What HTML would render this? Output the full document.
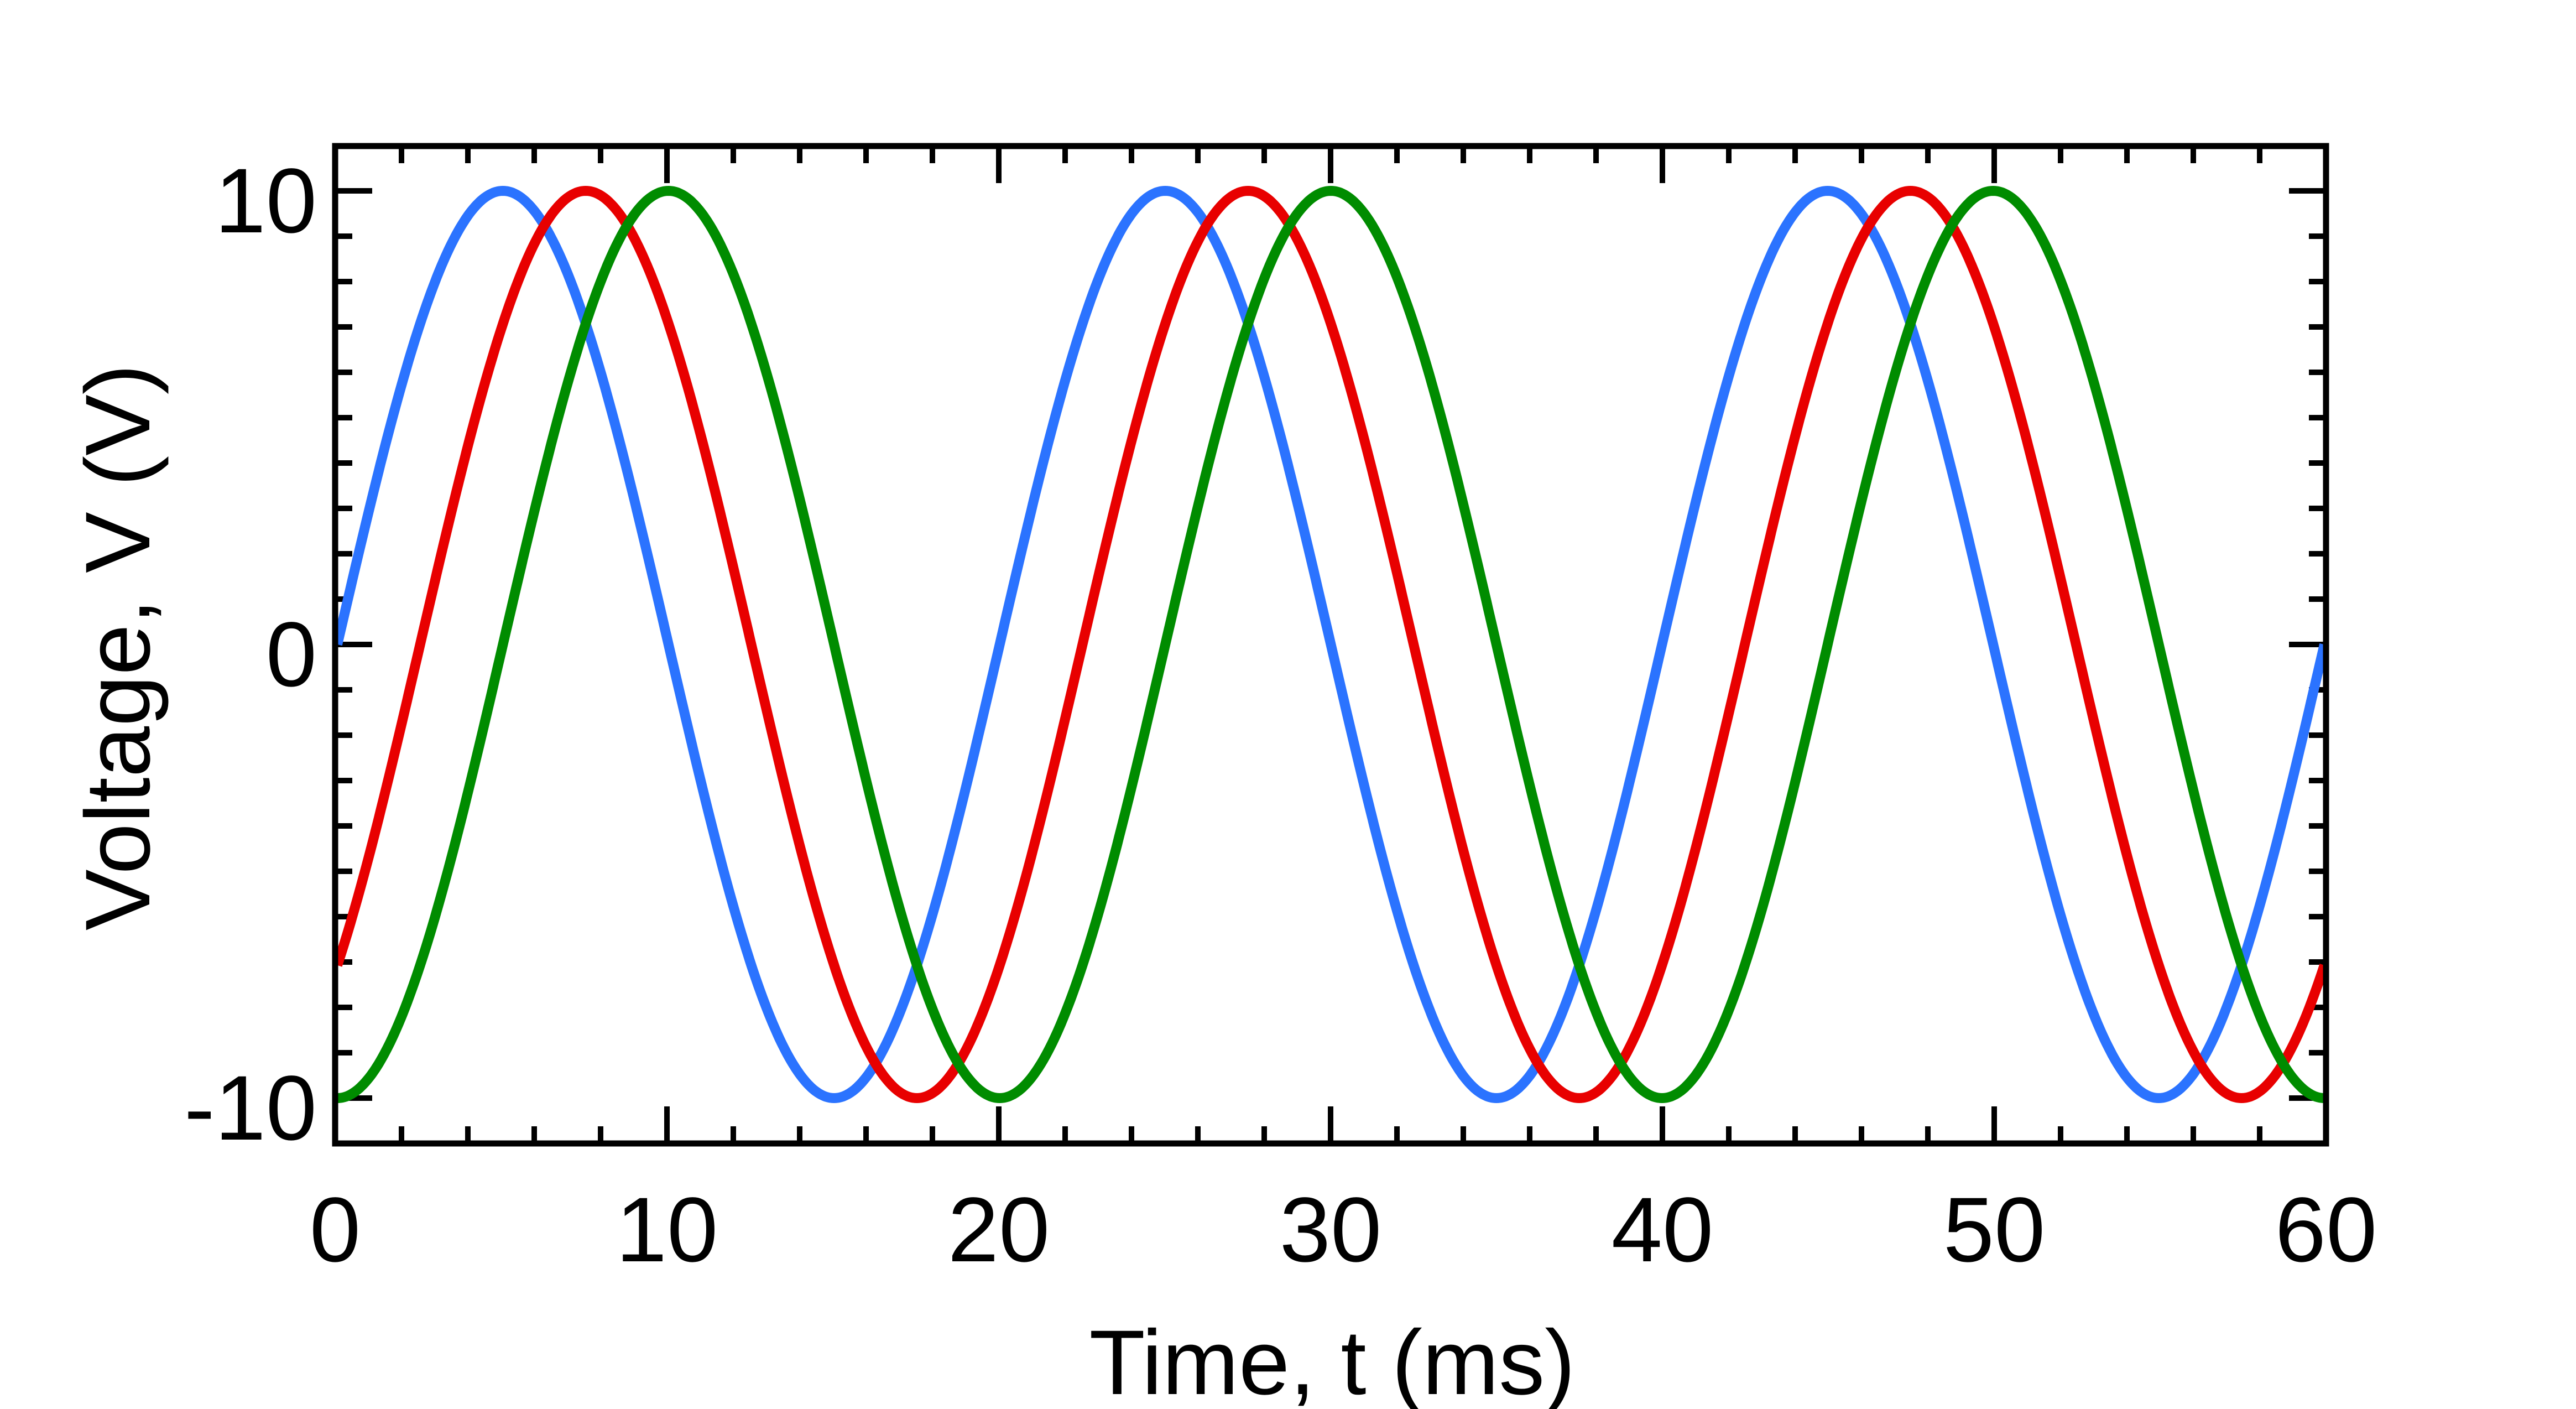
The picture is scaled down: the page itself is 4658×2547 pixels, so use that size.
<!DOCTYPE html>
<html><head><meta charset="utf-8"><style>
html,body{margin:0;padding:0;background:#fff}
svg{display:block}
text{font-family:"Liberation Sans",sans-serif;fill:#000}
</style></head><body>
<svg id="s" width="4658" height="2547" viewBox="0 0 4658 2547" xmlns="http://www.w3.org/2000/svg">
<g id="ticks" stroke="#000" stroke-width="10"></g>
<g id="curves" fill="none" stroke-width="18" stroke-linejoin="round"></g>
<rect x="606" y="264" width="3600" height="1803" fill="none" stroke="#000" stroke-width="11"/>
<g font-size="166" text-anchor="end">
<text x="573" y="420">10</text>
<text x="573" y="1240">0</text>
<text x="573" y="2060">-10</text>
</g>
<g font-size="166" text-anchor="middle">
<text x="606" y="2280">0</text>
<text x="1206" y="2280">10</text>
<text x="1806" y="2280">20</text>
<text x="2406" y="2280">30</text>
<text x="3006" y="2280">40</text>
<text x="3606" y="2280">50</text>
<text x="4206" y="2280">60</text>
<text x="2409" y="2520">Time, t (ms)</text>
<text transform="translate(270,1170) rotate(-90)">Voltage, V (V)</text>
</g>
</svg>
<script>
var X0=610,X1=4203,Y0=1165,A=820;
function px(t){return X0+(X1-X0)*t/60}
var cg=document.getElementById('curves');
[[0,'#2B73FF'],[2.5,'#E80000'],[5,'#008C00']].forEach(function(c){
 var d='';for(var i=0;i<=1200;i++){var t=i*60/1200;var y=Y0-A*Math.sin(2*Math.PI*(t-c[0])/20);d+=(i?'L':'M')+px(t).toFixed(1)+' '+y.toFixed(1);}
 var p=document.createElementNS('http://www.w3.org/2000/svg','path');p.setAttribute('d',d);p.setAttribute('stroke',c[1]);cg.appendChild(p);
});
var tg=document.getElementById('ticks'),d='';
var L=606,R=4206,T=264,B=2067;
for(var k=0;k<=30;k++){var x=L+k*120;var len=(k%5==0)?67:31;d+='M'+x+' '+B+'V'+(B-len)+'M'+x+' '+T+'V'+(T+len);}
for(var k=0;k<=20;k++){var y=345+k*82;var len=(k%10==0)?67:31;d+='M'+L+' '+y+'H'+(L+len)+'M'+R+' '+y+'H'+(R-len);}
var p=document.createElementNS('http://www.w3.org/2000/svg','path');p.setAttribute('d',d);tg.appendChild(p);
</script>
</body></html>
